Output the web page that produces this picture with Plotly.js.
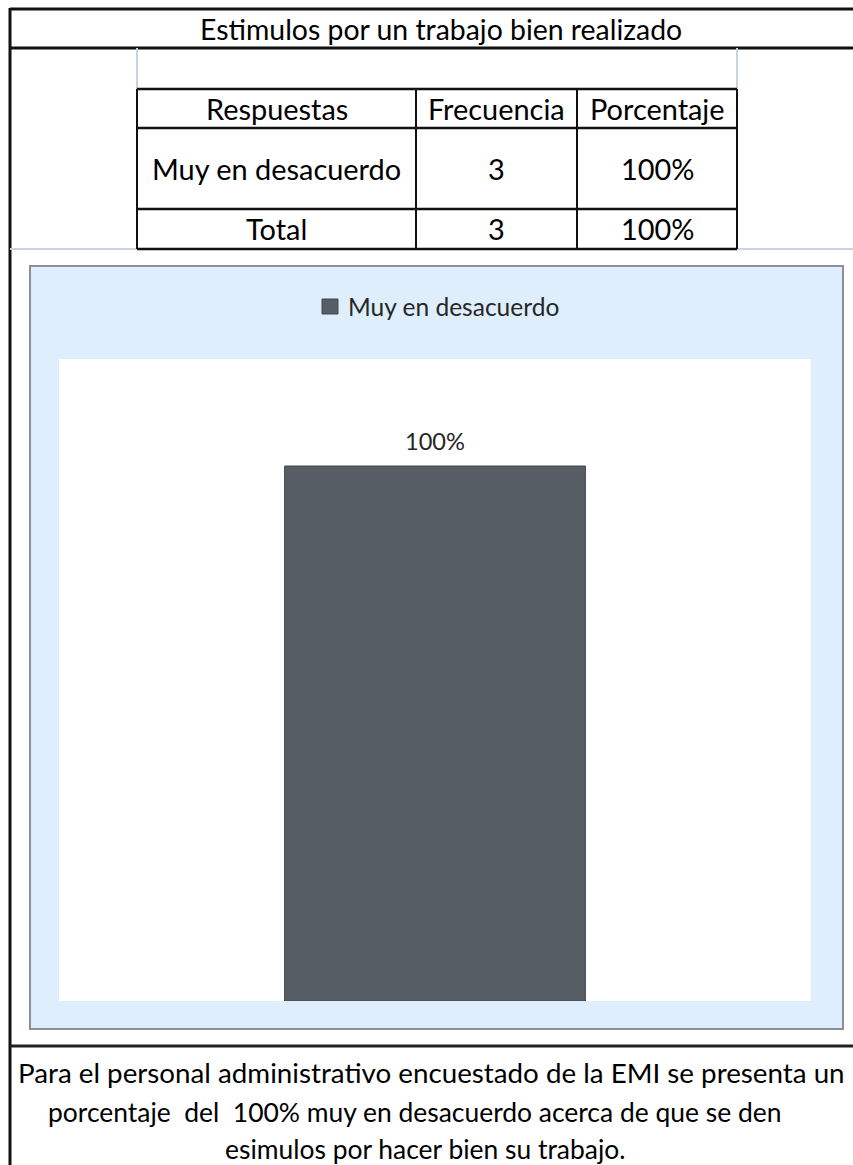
<!DOCTYPE html>
<html>
<head>
<meta charset="utf-8">
<script src="https://cdn.plot.ly/plotly-3.0.1.min.js"></script>
<style>
html,body{margin:0;padding:0;background:#fff;}
#chart{width:853px;height:1165px;}
</style>
</head>
<body>
<div id="chart"></div>
<script>
// ---- data ----
const tableTitle = "Estimulos por un trabajo bien realizado";
const headers = ["Respuestas", "Frecuencia", "Porcentaje"];
const respuestas = ["Muy en desacuerdo"];
const frecuencia = [3];
const porcentaje = [1.00];
const totalLabel = "Total";
const conclusion = [
  "Para el personal administrativo encuestado de la EMI se presenta un",
  "porcentaje  del  100% muy en desacuerdo acerca de que se den",
  "esimulos por hacer bien su trabajo."
];

// ---- helpers ----
const W = 853, H = 1165;
const FONT = "Lato";
const px = x => x / W;
const py = y => 1 - y / H;
const pct = v => Math.round(v * 100) + "%";
const ctx = document.createElement('canvas').getContext('2d');
function fit(text, target) {
  ctx.font = "100px " + FONT;
  return 100 * target / ctx.measureText(text).width;
}

const titleSize = fit(tableTitle, 483);
const cellSize = fit(respuestas[0], 250);
const legendSize = fit(respuestas[0], 212);
const labelSize = fit(pct(porcentaje[0]), 60);
const textSize = (fit(conclusion[1], 725) + fit(conclusion[2], 391)) / 2 * 1.02;
const firstLineSize = Math.min(textSize * 1.05, fit(conclusion[0], 830));

const shapes = [];
function line(x0, y0, x1, y1, color, width) {
  shapes.push({type: 'line', xref: 'paper', yref: 'paper',
    x0: px(x0), y0: py(y0), x1: px(x1), y1: py(y1),
    line: {color: color, width: width}, layer: 'above'});
}
// chart area background
shapes.push({type: 'rect', xref: 'paper', yref: 'paper',
  x0: px(30), x1: px(843), y0: py(266), y1: py(1029),
  fillcolor: '#DEEEFC', line: {color: '#8A9098', width: 2}, layer: 'below'});
// plot area (white)
shapes.push({type: 'rect', xref: 'paper', yref: 'paper',
  x0: px(59), x1: px(811), y0: py(359), y1: py(1001),
  fillcolor: '#FFFFFF', line: {width: 0}, layer: 'below'});

// outer frame
line(10, 9, 853, 9, '#111', 3);
line(10, 48, 853, 48, '#111', 3);
line(10, 8, 10, 1165, '#111', 3);
line(10, 1046, 853, 1046, '#222', 3);
// light gridlines
const light = '#C8D4E2';
line(137, 48, 137, 89, light, 2);
line(737, 48, 737, 89, light, 2);
line(10, 249, 137, 249, light, 2);
line(737, 249, 853, 249, light, 2);
// table
const colX = [137, 416, 577, 737];
const rowY = [89, 128, 209, 249];
rowY.forEach(y => line(137, y, 737, y, '#111', 2.5));
colX.forEach(x => line(x, 89, x, 249, '#111', 2));

// legend marker
shapes.push({type: 'rect', xref: 'paper', yref: 'paper',
  x0: px(322), x1: px(338), y0: py(299), y1: py(314),
  fillcolor: '#565D64', line: {color: '#44494F', width: 1}, layer: 'above'});

const annotations = [];
function txt(text, x, y, size, color, xanchor) {
  annotations.push({text: text, xref: 'paper', yref: 'paper', x: px(x), y: py(y),
    xanchor: xanchor || 'center', yanchor: 'middle', showarrow: false,
    font: {family: FONT, size: size, color: color || '#000'}});
}
txt(tableTitle, 441, 29, titleSize, '#000');
const colC = [0, 1, 2].map(i => (colX[i] + colX[i + 1]) / 2);
const rowC = [0, 1, 2].map(i => (rowY[i] + rowY[i + 1]) / 2);
headers.forEach((h, i) => txt(h, colC[i], rowC[0], cellSize, '#000'));
respuestas.forEach((r, k) => {
  txt(r, colC[0], rowC[1 + k], cellSize, '#000');
  txt(String(frecuencia[k]), colC[1], rowC[1 + k], cellSize, '#000');
  txt(pct(porcentaje[k]), colC[2], rowC[1 + k], cellSize, '#000');
});
txt(totalLabel, colC[0], rowC[2], cellSize, '#000');
txt(String(frecuencia.reduce((a, b) => a + b, 0)), colC[1], rowC[2], cellSize, '#000');
txt(pct(porcentaje.reduce((a, b) => a + b, 0)), colC[2], rowC[2], cellSize, '#000');

// legend text
txt(respuestas[0], 346, 307, legendSize, '#262626', 'left');

// conclusion
txt(conclusion[0], 16, 1072, firstLineSize, '#000', 'left');
txt(conclusion[1], 414, 1112, textSize, '#000');
txt(conclusion[2], 425, 1149, textSize, '#000');

// bar label via data coordinates
respuestas.forEach((r, k) => {
  annotations.push({text: pct(porcentaje[k]), xref: 'x', yref: 'y', x: r, y: porcentaje[k],
    yanchor: 'middle', xanchor: 'center', yshift: 25, showarrow: false,
    font: {family: FONT, size: labelSize, color: '#262626'}});
});

const data = [{
  type: 'bar', x: respuestas, y: porcentaje, name: respuestas[0],
  width: 0.4,
  marker: {color: '#565D64', line: {color: '#42474D', width: 1}},
  hoverinfo: 'skip', showlegend: false
}];

const layout = {
  width: W, height: H,
  margin: {l: 0, r: 0, t: 0, b: 0, pad: 0},
  paper_bgcolor: '#FFFFFF', plot_bgcolor: 'rgba(0,0,0,0)',
  showlegend: false,
  xaxis: {domain: [px(59), px(811)], type: 'category', range: [-0.5, 0.5],
    showticklabels: false, showgrid: false, zeroline: false, showline: false, ticks: '', fixedrange: true},
  yaxis: {domain: [py(1001), py(359)], range: [0, 1.2],
    showticklabels: false, showgrid: false, zeroline: false, showline: false, ticks: '', fixedrange: true},
  shapes: shapes,
  annotations: annotations,
  font: {family: FONT}
};
Plotly.newPlot('chart', data, layout, {displayModeBar: false, staticPlot: true});
</script>
</body>
</html>
